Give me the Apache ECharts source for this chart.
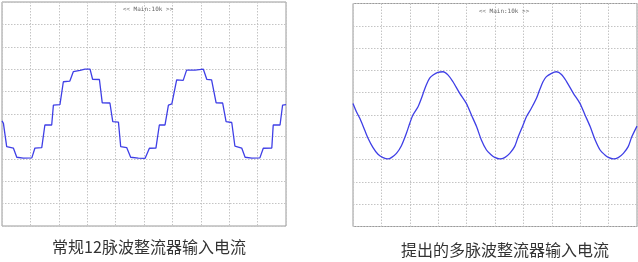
<!DOCTYPE html>
<html>
<head>
<meta charset="utf-8">
<script src="https://cdn.jsdelivr.net/npm/echarts@6/dist/echarts.min.js"></script>
<style>
html,body{margin:0;padding:0;background:#fff;}
#c{width:638px;height:262px;}
</style>
</head>
<body>
<div id="c"></div>
<script>
// Time in screen divisions (0..10), current in vertical divisions
const leftTime = [0,0.05,0.165,0.40,0.52,0.75,1.05,1.16,1.40,1.51,1.75,1.81,2.04,2.16,2.39,2.51,2.57,2.75,2.92,3.10,3.19,3.43,3.53,3.80,3.90,4.10,4.18,4.39,4.53,4.80,5.04,5.19,5.42,5.54,5.74,5.86,5.98,6.15,6.38,6.50,6.56,6.80,7.09,7.21,7.38,7.54,7.77,7.89,8.09,8.20,8.44,8.56,8.80,9.08,9.20,9.50,9.55,9.79,9.88,10];
const leftCurrent = [-0.31,-0.42,-1.46,-1.52,-1.93,-1.97,-1.96,-1.52,-1.50,-0.49,-0.49,0.40,0.42,1.44,1.47,1.89,1.94,1.95,2.0,2.0,1.55,1.54,0.50,0.49,-0.34,-0.36,-1.46,-1.50,-1.93,-1.97,-1.98,-1.53,-1.52,-0.49,-0.49,0.40,0.45,1.52,1.50,1.96,1.95,1.96,2.0,1.55,1.52,0.50,0.49,-0.34,-0.38,-1.43,-1.52,-1.93,-1.97,-1.96,-1.53,-1.52,-0.49,-0.49,0.40,0.42];

const rightTime = [0,0.12,0.24,0.41,0.53,0.70,0.88,1.06,1.23,1.35,1.53,1.70,1.88,2.0,2.11,2.29,2.41,2.49,2.58,2.70,2.82,2.99,3.17,3.35,3.52,3.76,3.99,4.17,4.35,4.52,4.70,4.87,4.99,5.17,5.34,5.52,5.69,5.81,5.99,6.11,6.28,6.46,6.57,6.69,6.81,6.99,7.16,7.34,7.52,7.76,7.99,8.17,8.35,8.52,8.70,8.87,8.99,9.17,9.34,9.52,9.69,9.81,10];
const rightCurrent = [0.52,0.15,-0.15,-0.67,-1.04,-1.45,-1.76,-1.91,-1.97,-1.91,-1.72,-1.39,-0.82,-0.37,0.0,0.37,0.75,1.04,1.35,1.65,1.79,1.91,1.94,1.79,1.49,0.97,0.52,0.0,-0.52,-1.12,-1.57,-1.79,-1.90,-1.97,-1.91,-1.72,-1.42,-1.0,-0.45,-0.07,0.30,0.75,1.12,1.49,1.72,1.87,1.94,1.82,1.50,0.97,0.52,0.0,-0.52,-1.10,-1.57,-1.79,-1.90,-1.97,-1.91,-1.72,-1.42,-1.0,-0.50];

const captions = ['常规12脉波整流器输入电流', '提出的多脉波整流器输入电流'];
const scopeLabel = '<< Main:10k >>';

const chart = echarts.init(document.getElementById('c'), null, {renderer:'canvas'});
const gridLine = {show:true, lineStyle:{color:'#c4c4c4', type:[1.5,1.5], width:1}};
function xAx(i){return {type:'value', gridIndex:i, min:0, max:10, interval:1, axisLine:{show:false}, axisTick:{show:false}, axisLabel:{show:false}, splitLine:gridLine};}
function yAx(i){return {type:'value', gridIndex:i, min:-5, max:5, interval:1, axisLine:{show:false}, axisTick:{show:false}, axisLabel:{show:false}, splitLine:gridLine};}
const lineColor = '#3f3fe6';
chart.setOption({
  animation:false,
  backgroundColor:'#fff',
  grid:[
    {left:2, top:2, width:284, height:224, show:true, borderColor:'#9a9a9a', borderWidth:1, backgroundColor:'#fff'},
    {left:353, top:3.5, width:284, height:223, show:true, borderColor:'#9a9a9a', borderWidth:1, backgroundColor:'#fff'}
  ],
  xAxis:[xAx(0), xAx(1)],
  yAxis:[yAx(0), yAx(1)],
  title:[
    {text:scopeLabel, left:143, top:1, textAlign:'center', textStyle:{fontSize:6, color:'#666', fontWeight:'normal', fontFamily:'DejaVu Sans Mono'}},
    {text:scopeLabel, left:499, top:3, textAlign:'center', textStyle:{fontSize:6, color:'#666', fontWeight:'normal', fontFamily:'DejaVu Sans Mono'}},
    {text:captions[0], left:144, top:234, textAlign:'center', textStyle:{fontSize:16, color:'#333', fontWeight:'normal', fontFamily:'Noto Sans CJK SC'}},
    {text:captions[1], left:500, top:237, textAlign:'center', textStyle:{fontSize:16, color:'#333', fontWeight:'normal', fontFamily:'Noto Sans CJK SC'}}
  ],
  series:[
    {type:'line', xAxisIndex:0, yAxisIndex:0, showSymbol:false, symbol:'none', data:leftTime.map((t,i)=>[t,leftCurrent[i]]), lineStyle:{color:lineColor, width:1.3}},
    {type:'line', xAxisIndex:1, yAxisIndex:1, showSymbol:false, symbol:'none', smooth:0.3, data:rightTime.map((t,i)=>[t,rightCurrent[i]]), lineStyle:{color:lineColor, width:1.3}}
  ]
});
</script>
</body>
</html>
